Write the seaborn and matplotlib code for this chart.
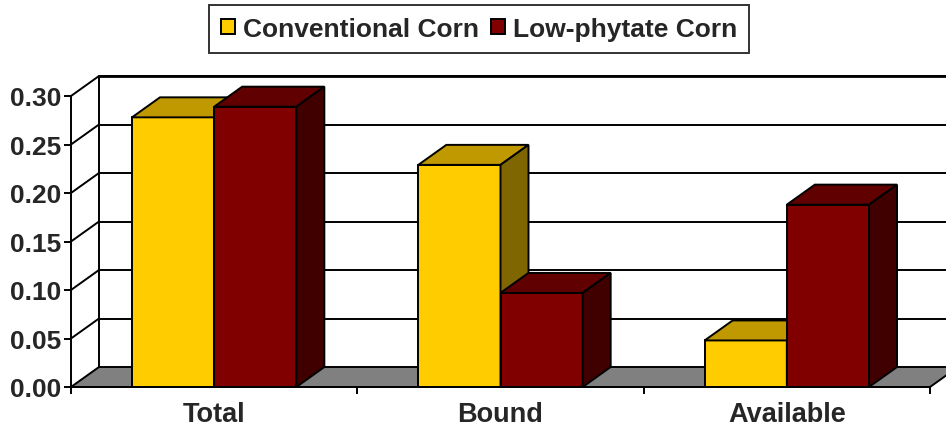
import numpy as np
import pandas as pd
import seaborn as sns
import matplotlib
matplotlib.use("Agg")
import matplotlib.pyplot as plt
from matplotlib.patches import Polygon, Patch

categories = ["Total", "Bound", "Available"]
series = ["Conventional Corn", "Low-phytate Corn"]
conventional = [0.278, 0.229, 0.048]
low_phytate = [0.289, 0.097, 0.188]
yticks = [0.00, 0.05, 0.10, 0.15, 0.20, 0.25, 0.30]

front_colors = {"Conventional Corn": "#FFCC00", "Low-phytate Corn": "#800000"}
top_colors = {"Conventional Corn": "#C09900", "Low-phytate Corn": "#600000"}
side_colors = {"Conventional Corn": "#806600", "Low-phytate Corn": "#400000"}

df = pd.DataFrame({
    "category": categories * 2,
    "series": [series[0]] * 3 + [series[1]] * 3,
    "value": conventional + low_phytate,
})

sns.set_theme(style="white")
plt.rcParams["font.family"] = ["Liberation Sans", "DejaVu Sans"]
plt.rcParams["font.weight"] = "bold"

W, H = 946, 431
fig = plt.figure(figsize=(W / 100, H / 100), dpi=100)
ax_l, ax_r, ax_t, ax_b = 71, 930, 97, 388
ax = fig.add_axes([ax_l / W, 1 - ax_b / H, (ax_r - ax_l) / W, (ax_b - ax_t) / H])

sns.barplot(data=df, x="category", y="value", hue="series", order=categories,
            hue_order=series, palette=front_colors, width=0.574, dodge=True,
            edgecolor="black", linewidth=1.4, saturation=1, legend=False, ax=ax)
bars = list(ax.patches)

xlo, xhi = -0.5, 2.5
ylo, yhi = 0.0, 0.30
ax.set_xlim(xlo, xhi)
ax.set_ylim(ylo, yhi)

# depth offsets (pixels -> data)
ddx = 28 / (ax_r - ax_l) * (xhi - xlo)
ddy = 20 / (ax_b - ax_t) * (yhi - ylo)

lw = 1.4
# back wall
wall = Polygon([(xlo + ddx, ddy), (xhi + 2 * ddx, ddy), (xhi + 2 * ddx, yhi + ddy),
                (xlo + ddx, yhi + ddy)], closed=True, facecolor="white",
               edgecolor="none", zorder=0.5, clip_on=False)
ax.add_patch(wall)
for t in yticks[1:]:
    ax.plot([xlo + ddx, xhi + 2 * ddx], [t + ddy, t + ddy], color="black", lw=lw,
            zorder=1, clip_on=False, solid_capstyle="butt")
    ax.plot([xlo, xlo + ddx], [t, t + ddy], color="black", lw=lw, zorder=1, clip_on=False)
ax.plot([xlo + ddx, xlo + ddx], [ddy, yhi + ddy], color="black", lw=lw, zorder=1, clip_on=False)
ax.plot([xlo + ddx, xhi + 2 * ddx], [yhi + ddy, yhi + ddy], color="black", lw=lw + 0.6,
        zorder=1, clip_on=False)

# floor
floor = Polygon([(xlo, 0), (xhi, 0), (xhi + ddx, ddy), (xlo + ddx, ddy)], closed=True,
                facecolor="#808080", edgecolor="black", lw=lw, zorder=1.5, clip_on=False)
ax.add_patch(floor)
ax.plot([xhi + ddx, xhi + 2 * ddx], [ddy, ddy], color="black", lw=lw, zorder=1.5, clip_on=False)

# 3D faces of bars
n = len(categories)
for i, p in enumerate(bars):
    s = series[0] if i < n else series[1]
    z = 3 if i < n else 4
    x0, w, h = p.get_x(), p.get_width(), p.get_height()
    p.set_zorder(z)
    top = Polygon([(x0, h), (x0 + w, h), (x0 + w + ddx, h + ddy), (x0 + ddx, h + ddy)],
                  closed=True, facecolor=top_colors[s], edgecolor="black", lw=lw,
                  zorder=z, clip_on=False, joinstyle="miter")
    side = Polygon([(x0 + w, 0), (x0 + w + ddx, ddy), (x0 + w + ddx, h + ddy), (x0 + w, h)],
                   closed=True, facecolor=side_colors[s], edgecolor="black", lw=lw,
                   zorder=z, clip_on=False, joinstyle="miter")
    ax.add_patch(top)
    ax.add_patch(side)
    p.set_clip_on(False)

# axes styling
for sp in ["top", "right"]:
    ax.spines[sp].set_visible(False)
for sp in ["left", "bottom"]:
    ax.spines[sp].set_color("black")
    ax.spines[sp].set_linewidth(lw)
    ax.spines[sp].set_zorder(5)
ax.set_xlabel("")
ax.set_ylabel("")
ax.set_yticks(yticks)
ax.set_yticklabels([f"{t:.2f}" for t in yticks], fontsize=19, fontweight="bold")
ax.set_xticks(range(n))
ax.set_xticklabels(categories, fontsize=19.5, fontweight="bold")
ax.set_xticks([xlo + k for k in range(n + 1)], minor=True)
ax.tick_params(axis="y", which="major", direction="out", length=5, width=lw, color="black",
               pad=2, left=True)
ax.tick_params(axis="x", which="major", length=0, pad=10)
ax.tick_params(axis="x", which="minor", direction="out", length=5, width=lw, color="black",
               bottom=True)
ax.grid(False)
ax.patch.set_alpha(0)

handles = [Patch(facecolor=front_colors[s], edgecolor="black", lw=1.4) for s in series]
leg = fig.legend(handles, series, loc="upper center", bbox_to_anchor=(479 / W, 1 - 6 / H),
                 ncol=2, frameon=True, fancybox=False, prop={"size": 19, "weight": "bold"},
                 handlelength=0.55, handleheight=0.55, handletextpad=0.3, columnspacing=0.45,
                 borderpad=0.45, borderaxespad=0)
leg.get_frame().set_edgecolor("black")
leg.get_frame().set_linewidth(1.4)

fig.savefig("out.png", dpi=100)
